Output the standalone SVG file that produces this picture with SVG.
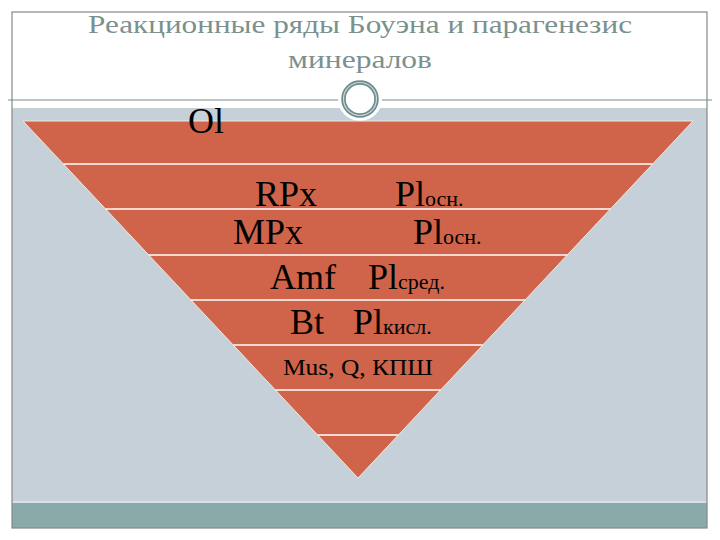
<svg xmlns="http://www.w3.org/2000/svg" width="720" height="540" viewBox="0 0 720 540">
<style>
.t{font-family:'Liberation Serif','DejaVu Serif',serif;fill:#000}
.big{font-size:36px}
.sub{font-size:22px}
.ttl{font-family:'Liberation Serif','DejaVu Serif',serif;font-size:25px;fill:#7b918e;text-anchor:middle}
.sep{stroke:#ffffff;stroke-width:1.6}
</style>
<rect x="0" y="0" width="720" height="540" fill="#ffffff"/>
<g id="background">
<rect x="12" y="12" width="695" height="88" fill="#ffffff"/>
<rect x="12" y="108" width="695" height="393" fill="#c6d0d8"/>
<rect x="12" y="501" width="695" height="2" fill="#d8e2e4"/>
<rect x="12" y="503" width="695" height="25" fill="#8aaaa9"/>
<rect x="12" y="12" width="695" height="516" fill="none" stroke="#808b8b" stroke-width="1.2"/>
<line x1="8" y1="100" x2="712" y2="100" stroke="#808b8b" stroke-width="1.2"/>
</g>
<g id="title">
<text class="ttl" x="360" y="33" textLength="544" lengthAdjust="spacingAndGlyphs">Реакционные ряды Боуэна и парагенезис</text>
<text class="ttl" x="360" y="68" textLength="144" lengthAdjust="spacingAndGlyphs">минералов</text>
</g>
<g id="ornament">
<circle cx="360" cy="99" r="22" fill="#ffffff"/>
<circle cx="360" cy="99" r="16.5" fill="none" stroke="#6f8c8c" stroke-width="4.5"/>
<circle cx="360" cy="99" r="16.5" fill="none" stroke="#c9d8d8" stroke-width="1.2"/>
</g>
<g id="pyramid">
<polygon points="23,121 693,121 358,478" fill="#d0644a" stroke="#f3e6e0" stroke-width="1"/>
</g>
<g id="connectors">
<line class="sep" x1="63.4" y1="164" x2="652.6" y2="164"/>
<line class="sep" x1="105.6" y1="209" x2="610.4" y2="209"/>
<line class="sep" x1="148.7" y1="255" x2="567.3" y2="255"/>
<line class="sep" x1="191" y1="300" x2="525" y2="300"/>
<line class="sep" x1="233.2" y1="345" x2="482.8" y2="345"/>
<line class="sep" x1="275.4" y1="390" x2="440.6" y2="390"/>
<line class="sep" x1="317.7" y1="435" x2="398.3" y2="435"/>
</g>
<g id="ol"><text class="t big" x="188" y="133">Ol</text></g>
<g id="rpx"><text class="t big" x="255" y="206">RPx</text><text class="t big" x="395" y="206">Pl<tspan class="sub">осн.</tspan></text></g>
<g id="mpx"><text class="t big" x="233" y="244">MPx</text><text class="t big" x="413" y="244">Pl<tspan class="sub">осн.</tspan></text></g>
<g id="amf"><text class="t big" x="270" y="289">Amf</text><text class="t big" x="368" y="289">Pl<tspan class="sub">сред.</tspan></text></g>
<g id="bt"><text class="t big" x="290" y="334">Bt</text><text class="t big" x="353" y="334">Pl<tspan class="sub">кисл.</tspan></text></g>
<g id="mus"><text class="t" x="283" y="375" font-size="24" textLength="150" lengthAdjust="spacingAndGlyphs">Mus, Q, КПШ</text></g>
</svg>
